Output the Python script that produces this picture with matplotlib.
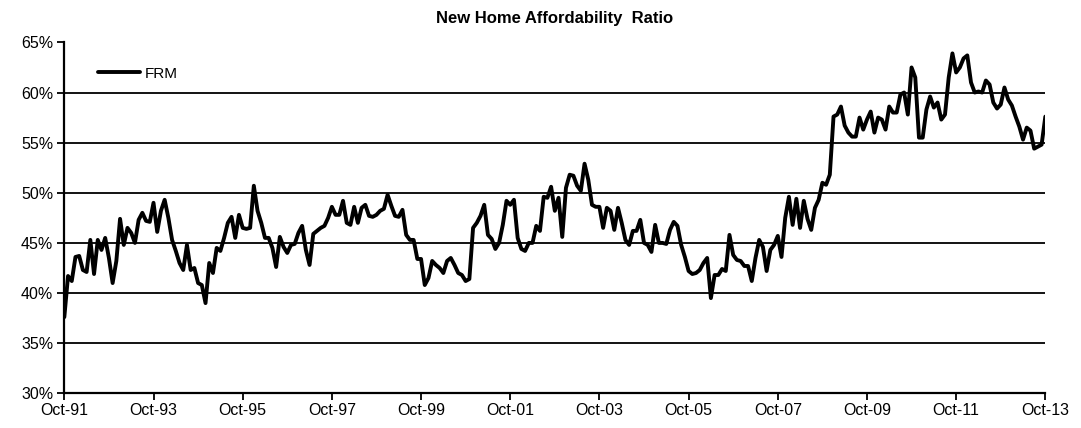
import matplotlib
matplotlib.use("Agg")
import matplotlib.pyplot as plt
import numpy as np

plt.rcParams['font.family'] = ['Liberation Sans', 'DejaVu Sans']

title = "New Home Affordability  Ratio"
series_name = "FRM"
tick_labels = ["Oct-91", "Oct-93", "Oct-95", "Oct-97", "Oct-99", "Oct-01",
               "Oct-03", "Oct-05", "Oct-07", "Oct-09", "Oct-11", "Oct-13"]

# Monthly values, Oct-1991 .. Oct-2013 (percent)
frm = [
    37.6, 41.7, 41.2, 43.6, 43.7, 42.3, 42.1, 45.3, 41.9, 45.3, 44.3, 45.5,
    43.5, 41.0, 43.2, 47.4, 44.8, 46.5, 46.0, 45.0, 47.3, 48.0, 47.2, 47.1,
    49.0, 46.1, 48.2, 49.3, 47.5, 45.3, 44.2, 43.0, 42.3, 44.8, 42.3, 42.5,
    41.0, 40.8, 39.0, 43.0, 42.0, 44.5, 44.2, 45.5, 47.0, 47.6, 45.5, 47.8,
    46.5, 46.4, 46.5, 50.7, 48.2, 47.0, 45.5, 45.5, 44.5, 42.6, 45.6, 44.6,
    44.0, 44.8, 44.9, 46.0, 46.7, 44.3, 42.8, 45.9, 46.2, 46.5, 46.7, 47.5,
    48.6, 47.8, 47.8, 49.2, 47.0, 46.8, 48.6, 47.0, 48.5, 48.8, 47.7, 47.6,
    47.8, 48.2, 48.4, 49.8, 48.7, 47.7, 47.6, 48.3, 45.8, 45.3, 45.3, 43.4,
    43.4, 40.8, 41.5, 43.2, 42.8, 42.5, 42.0, 43.2, 43.5, 42.8, 42.0, 41.8,
    41.2, 41.4, 46.5, 47.0, 47.7, 48.8, 45.8, 45.4, 44.4, 45.0, 46.8, 49.2,
    48.8, 49.3, 45.5, 44.4, 44.2, 45.0, 45.0, 46.7, 46.2, 49.6, 49.5, 50.6,
    48.2, 49.5, 45.6, 50.5, 51.8, 51.7, 50.7, 50.2, 52.9, 51.3, 48.8, 48.6,
    48.6, 46.5, 48.5, 48.2, 46.3, 48.5, 47.0, 45.3, 44.8, 46.2, 46.2, 47.3,
    45.0, 44.8, 44.1, 46.8, 45.0, 45.0, 44.9, 46.3, 47.1, 46.7, 44.8, 43.6,
    42.2, 41.9, 42.0, 42.3, 43.0, 43.5, 39.5, 41.8, 41.8, 42.4, 42.2, 45.8,
    43.8, 43.3, 43.2, 42.7, 42.7, 41.2, 43.5, 45.3, 44.6, 42.2, 44.3, 44.8,
    45.7, 43.6, 47.5, 49.6, 46.8, 49.4, 46.5, 49.2, 47.4, 46.3, 48.5, 49.3,
    51.0, 50.8, 51.8, 57.6, 57.8, 58.6, 56.7, 56.0, 55.6, 55.6, 57.5, 56.3,
    57.3, 58.1, 56.0, 57.5, 57.3, 56.3, 58.6, 58.0, 58.0, 59.8, 60.0, 57.8,
    62.5, 61.5, 55.5, 55.5, 58.3, 59.6, 58.5, 59.0, 57.3, 57.8, 61.5, 63.9,
    62.0, 62.5, 63.4, 63.7, 61.0, 60.0, 60.1, 60.0, 61.2, 60.8, 59.0, 58.4,
    58.8, 60.5, 59.3, 58.7, 57.6, 56.6, 55.3, 56.5, 56.2, 54.4, 54.6, 54.8,
    57.6,
]

x = np.arange(len(frm))

fig = plt.figure(figsize=(10.81, 4.28), dpi=100)
ax = fig.add_axes([0.0595, 0.081, 0.9075, 0.82])

for g in [35, 40, 45, 50, 55, 60]:
    ax.axhline(g, color='black', lw=1.3, zorder=1)

ax.plot(x, frm, color='black', lw=2.8, label=series_name, zorder=3,
        solid_joinstyle='round', solid_capstyle='round')

ax.set_xlim(0, len(frm) - 1)
ax.set_ylim(30, 65)
ax.set_yticks(np.arange(30, 66, 5))
ax.set_yticklabels([f"{v}%" for v in range(30, 66, 5)])
ax.set_xticks(np.arange(0, len(frm), 24))
ax.set_xticklabels(tick_labels)

for s in ['top', 'right']:
    ax.spines[s].set_visible(False)
ax.spines['left'].set_linewidth(1.6)
ax.spines['bottom'].set_linewidth(1.6)
ax.tick_params(axis='both', direction='out', length=5, width=1.3,
               labelsize=11.5, colors='black')
ax.tick_params(axis='y', pad=3)
ax.tick_params(axis='x', pad=2)

ax.set_title(title, fontsize=12, fontweight='bold', pad=14)

leg = ax.legend(loc='upper left', bbox_to_anchor=(0.02, 0.97), frameon=False,
                fontsize=11, handlelength=2.8, handletextpad=0.3)

fig.savefig("out.png", dpi=100)
